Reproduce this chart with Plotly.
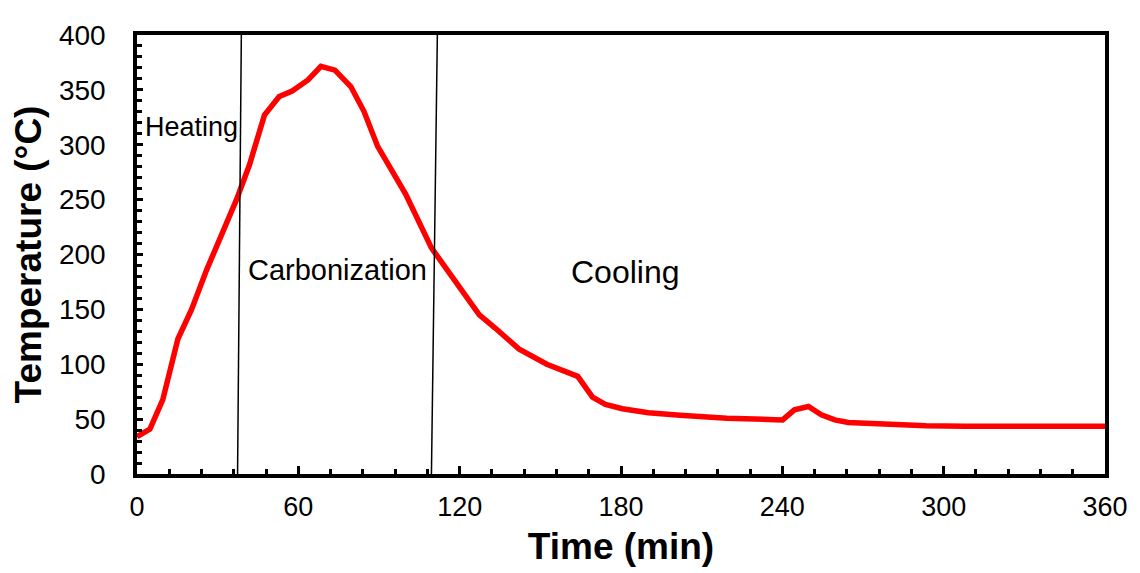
import plotly.graph_objects as go

# Data
time_min = [0, 4.8, 9.6, 15.2, 20.3, 25.9, 37, 41.8, 47.4, 52.9, 57.7, 63.6, 68.4,
            73.6, 79.5, 84.4, 89.5, 99.9, 109.5, 117.6, 122.8, 127.3, 133.2, 142,
            152.4, 158.7, 163.9, 169.4, 174.2, 180.5, 190.2, 202, 219.4, 237.5,
            240.1, 244.5, 249.7, 254.5, 259.5, 264.5, 278.6, 293.4, 308, 323,
            341.5, 360]
temperature = [34, 41, 67.7, 123, 150, 186, 250, 281.5, 327, 344, 349, 359, 371.5,
               368, 353, 330.5, 298.5, 255, 206, 179, 161, 145, 133, 114,
               100, 93.5, 89, 70, 63.5, 59.5, 55.8, 53.5, 50.8, 49.5,
               49.3, 58.5, 61.5, 54, 49.3, 47, 45, 44, 43.6, 43.3,
               43.3, 43.6]

# Phase boundary lines (x at bottom, x at top)
boundary_bottom = [37.4, 109.5]
boundary_top = [38.8, 111.7]
y_range = [0, 400]

phase_labels = ["Heating", "Carbonization", "Cooling"]
phase_label_x = [20.3, 74.4, 181.6]
phase_label_y = [316, 186, 184]
phase_label_size = [27, 29, 32]

x_ticks = [0, 60, 120, 180, 240, 300, 360]
y_ticks = [0, 50, 100, 150, 200, 250, 300, 350, 400]

FONT = "Liberation Sans, Arial, sans-serif"

fig = go.Figure()
fig.add_trace(go.Scatter(
    x=time_min, y=temperature, mode="lines",
    line=dict(color="#FF0000", width=5.5), showlegend=False,
    hoverinfo="x+y"))

for xb, xt in zip(boundary_bottom, boundary_top):
    fig.add_shape(type="line", xref="x", yref="y",
                  x0=xb, y0=y_range[0], x1=xt, y1=y_range[1],
                  line=dict(color="black", width=1.5))

for txt, lx, ly, sz in zip(phase_labels, phase_label_x, phase_label_y, phase_label_size):
    fig.add_annotation(x=lx, y=ly, xref="x", yref="y", text=txt, showarrow=False,
                       font=dict(family=FONT, size=sz, color="black"))

# page body has an 8px default margin; sizes compensate for it
fig.update_layout(
    width=1132, height=565,
    margin=dict(l=129, r=30, t=20, b=89),
    paper_bgcolor="white", plot_bgcolor="white",
    font=dict(family=FONT, color="black"),
)

fig.update_xaxes(
    range=[0, 360], tickvals=x_ticks, ticktext=[str(v) for v in x_ticks],
    showgrid=False, zeroline=False,
    showline=True, linecolor="black", linewidth=3.5, mirror=True,
    ticks="inside", ticklen=8, tickwidth=3, tickcolor="black",
    minor=dict(dtick=12, ticks="inside", ticklen=5, tickwidth=3, tickcolor="black", showgrid=False),
    tickfont=dict(family=FONT, size=27, color="black"),
    ticklabelstandoff=6,
    title=dict(text="<b>Time (min)</b>", font=dict(family=FONT, size=37, color="black"), standoff=13),
)
fig.update_yaxes(
    range=[0, 400], tickvals=y_ticks, ticktext=[str(v) for v in y_ticks],
    showgrid=False, zeroline=False,
    showline=True, linecolor="black", linewidth=3.5, mirror=True,
    ticks="inside", ticklen=6, tickwidth=3, tickcolor="black",
    minor=dict(dtick=10, ticks="inside", ticklen=5, tickwidth=3, tickcolor="black", showgrid=False),
    tickfont=dict(family=FONT, size=28, color="black"),
    ticklabelstandoff=22,
    title=dict(text="<b>Temperature (°C)</b>", font=dict(family=FONT, size=37, color="black"), standoff=8),
)

fig.write_html("out.html")
